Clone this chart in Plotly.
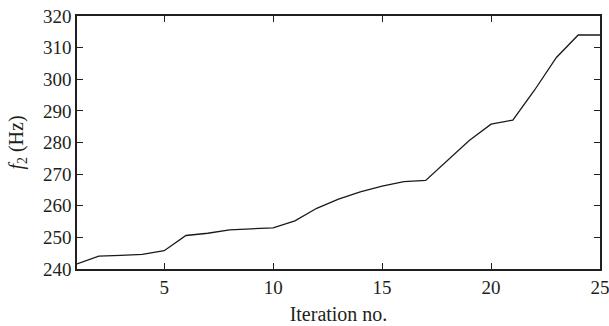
import plotly.graph_objects as go

iterations = list(range(1, 26))
f2_hz = [241.6, 244.1, 244.3, 244.6, 245.8, 250.6, 251.3, 252.4, 252.7, 253.0,
         255.2, 259.2, 262.1, 264.4, 266.2, 267.6, 268.0, 274.3, 280.6, 285.8,
         287.1, 296.6, 306.9, 314.0, 314.0]
x_ticks = [5, 10, 15, 20, 25]
y_ticks = [240, 250, 260, 270, 280, 290, 300, 310, 320]

font_family = "Liberation Serif, Times New Roman, serif"
ink = "#231f20"

fig = go.Figure()
fig.add_trace(go.Scatter(x=iterations, y=f2_hz, mode="lines",
                         line=dict(color="#1a1a1a", width=1.3), showlegend=False))

fig.update_layout(
    width=609, height=326,
    margin=dict(l=77, r=9, t=16, b=57, autoexpand=False),
    paper_bgcolor="white", plot_bgcolor="white",
    font=dict(family=font_family, size=19, color=ink),
)
fig.update_xaxes(
    range=[1, 25], tickvals=x_ticks, ticktext=[str(v) for v in x_ticks],
    ticks="inside", ticklen=6, tickwidth=1.3, tickcolor=ink,
    showline=True, linecolor=ink, linewidth=1.5, mirror="ticks",
    showgrid=False, zeroline=False, automargin=False,
    ticklabeloverflow="allow",
    tickfont=dict(family=font_family, size=19, color=ink),
    title=dict(text="Iteration no.", standoff=10, font=dict(family=font_family, size=20, color=ink)),
)
fig.update_yaxes(
    range=[240, 320], tickvals=y_ticks, ticktext=[str(v) for v in y_ticks],
    ticks="inside", ticklen=6, tickwidth=1.3, tickcolor=ink,
    showline=True, linecolor=ink, linewidth=1.5, mirror="ticks",
    showgrid=False, zeroline=False, automargin=False,
    ticklabeloverflow="allow",
    tickfont=dict(family=font_family, size=19, color=ink),
    title=dict(text="<i>f</i><sub>2</sub> (Hz)", standoff=14, font=dict(family=font_family, size=20, color=ink)),
)

fig.write_html("out.html")
